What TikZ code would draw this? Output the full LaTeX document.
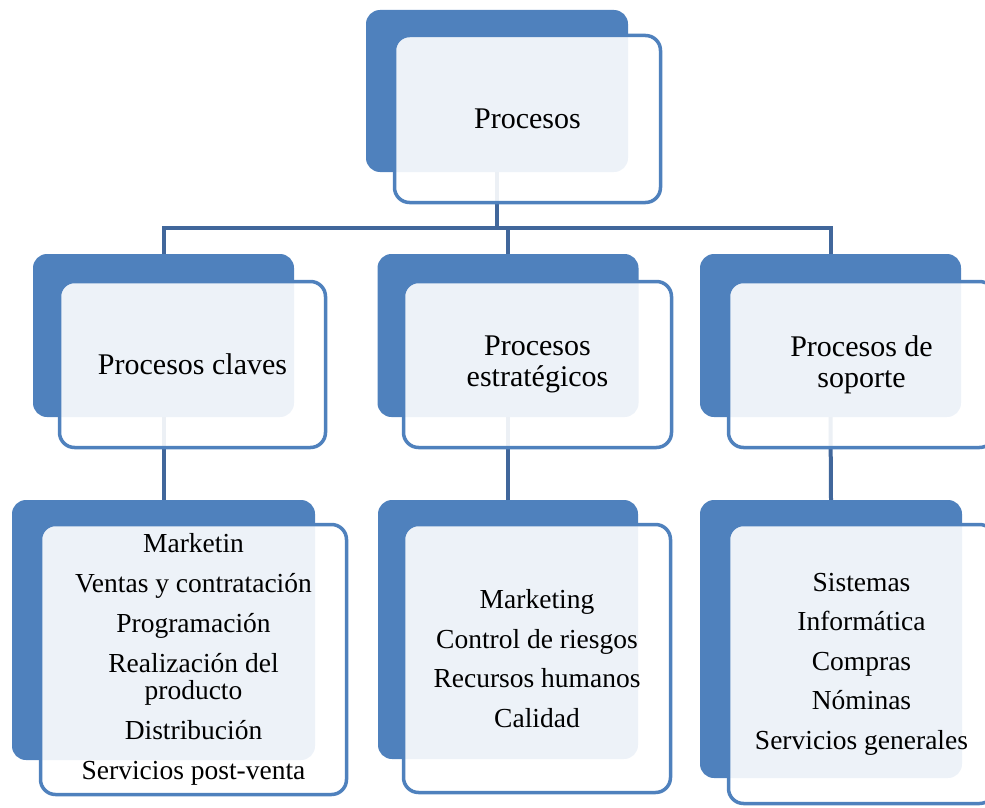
\documentclass[tikz,border=0pt]{standalone}
\usepackage{fontspec}
\setmainfont{Liberation Serif}
\definecolor{boxblue}{HTML}{4F81BD}
\definecolor{linkblue}{HTML}{41679B}
\tikzset{
  backbox/.style={fill=boxblue, rounded corners=14pt, inner sep=0pt,
    minimum width=261pt, minimum height=163pt},
  frontbox/.style={draw=boxblue, line width=3.5pt, fill=white, fill opacity=0.9,
    text opacity=1, rounded corners=15pt, inner sep=0pt, align=center,
    minimum width=266pt, minimum height=166pt, font=\fontsize{30}{31}\selectfont},
  listbox/.style={frontbox, font=\fontsize{27.5}{27}\selectfont},
  link/.style={draw=linkblue, line width=4pt},
}
\begin{document}
\begin{tikzpicture}[x=1pt, y=-1pt]
    \useasboundingbox (0,0) rectangle (985,808);

    % back boxes
    \node[backbox, minimum width=262pt, minimum height=162pt] (pb) at (497,91) {};
    \node[backbox] (kb) at (163.5,335.5) {};
    \node[backbox] (eb) at (508,335.5) {};
    \node[backbox] (sb) at (830.5,335.5) {};
    \node[backbox, minimum width=303pt, minimum height=260pt] (klb) at (163.5,630) {};
    \node[backbox, minimum width=260pt, minimum height=259pt] (elb) at (508,629.5) {};
    \node[backbox, minimum width=262pt, minimum height=278pt] (slb) at (831,639) {};

    % connectors
    \coordinate (bus) at (0,228);
    \draw[link] (pb.south) -- (pb.south |- bus);
    \draw[link] (kb.north) -- (kb.north |- bus) -- (sb.north |- bus) -- (sb.north);
    \draw[link] (eb.north) -- (eb.north |- bus);
    \draw[link] (kb.south) -- (klb.north);
    \draw[link] (eb.south) -- (elb.north);
    \draw[link] (sb.south) -- (slb.north);

    % front boxes
    \node[frontbox, minimum height=167pt] (p) at (527.5,119) {Procesos};
    \node[frontbox] (k) at (192.5,364.5) {Procesos claves};
    \node[frontbox, minimum width=268pt] (e) at (537.5,364.5) {Procesos\\estratégicos};
    \node[frontbox] (s) at (861.5,364.5) {Procesos de\\soporte};

    \node[listbox, minimum width=306pt, minimum height=270pt] (kl) at (193.5,659.5)
        {Marketin\\[13pt] Ventas y contratación\\[13pt] Programación\\[13pt]
         Realización del\\producto\\[13pt] Distribución\\[13pt] Servicios post-venta};
    \node[listbox, minimum width=267pt, minimum height=268pt] (el) at (537,658.5)
        {Marketing\\[12.5pt] Control de riesgos\\[12.5pt] Recursos humanos\\[12.5pt] Calidad};
    \node[listbox, minimum width=266pt, minimum height=279pt] (sl) at (861.5,664)
        {Sistemas\\[12.5pt] Informática\\[12.5pt] Compras\\[12.5pt] Nóminas\\[12.5pt] Servicios generales};
\end{tikzpicture}
\end{document}
